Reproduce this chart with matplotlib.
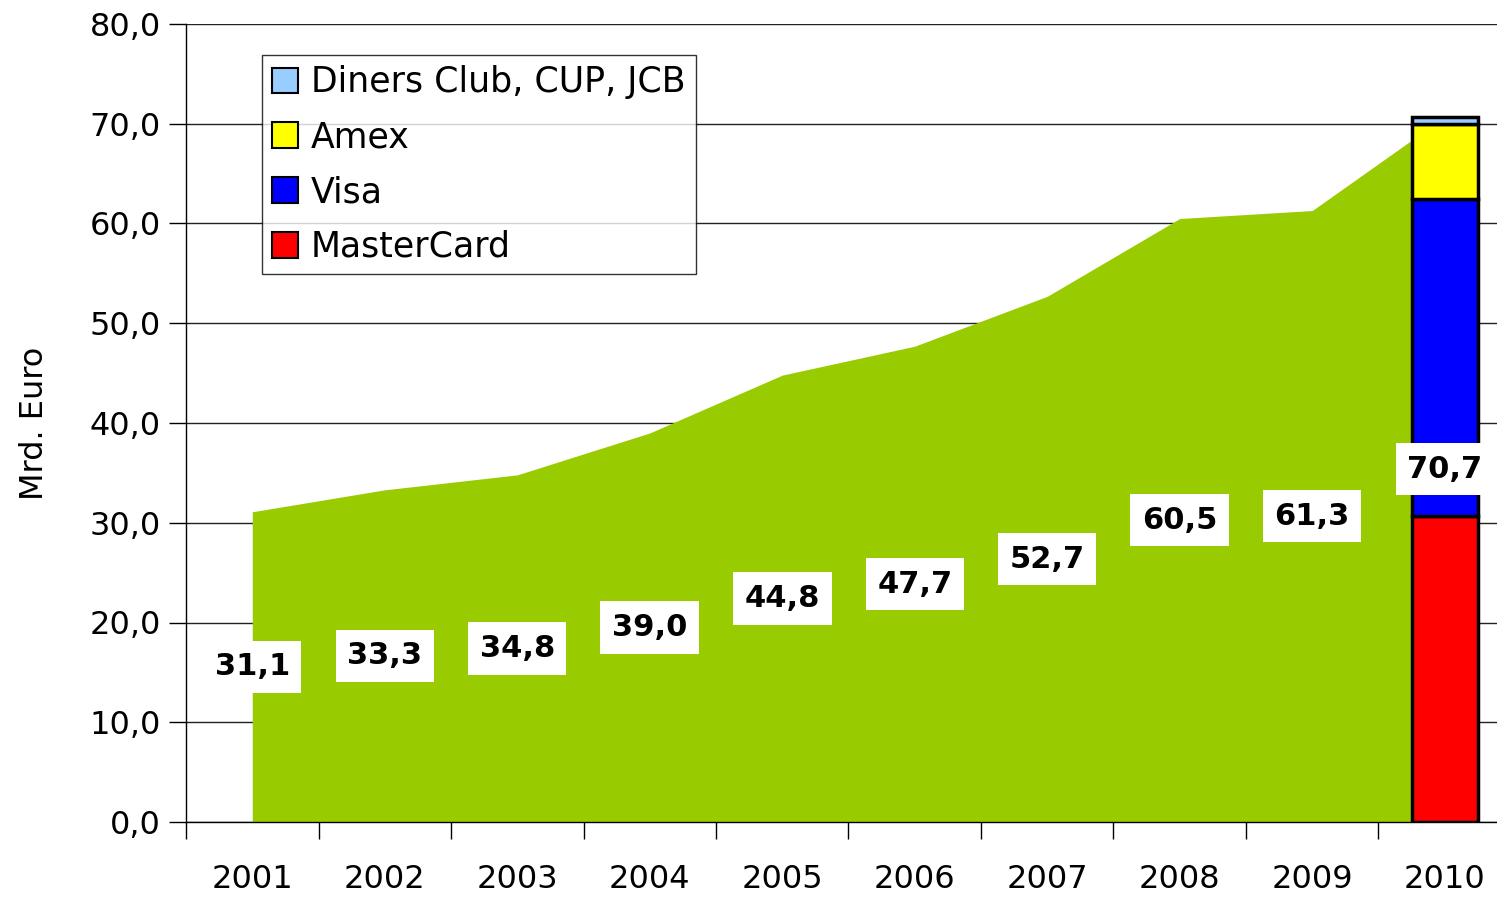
import matplotlib
matplotlib.use("Agg")
import matplotlib.pyplot as plt
from matplotlib.patches import Patch
import numpy as np

years = ["2001", "2002", "2003", "2004", "2005", "2006", "2007", "2008", "2009", "2010"]
totals = [31.1, 33.3, 34.8, 39.0, 44.8, 47.7, 52.7, 60.5, 61.3, 70.7]
seg_names = ["MasterCard", "Visa", "Amex", "Diners Club, CUP, JCB"]
seg_values = [30.7, 31.8, 7.5, 0.7]
seg_colors = ["#FF0000", "#0000FF", "#FFFF00", "#99CCFF"]
y_ticks = [0, 10, 20, 30, 40, 50, 60, 70, 80]

plt.rcParams['font.family'] = ['DejaVu Sans']

fig = plt.figure(figsize=(14.97, 8.97), dpi=100)
ax_w = 1325
ax = fig.add_axes([186/1497, 1 - 822/897, ax_w/1497, (822-24)/897])

x = np.arange(len(years))
ax.fill_between(x, totals, 0, color="#99CC00", linewidth=0, zorder=2)

bottom = 0
for name, v, c in zip(seg_names, seg_values, seg_colors):
    ax.bar(x[-1], v, width=0.5, bottom=bottom, color=c, edgecolor="black",
           linewidth=2.5, zorder=3)
    bottom += v

for xi, t in zip(x, totals):
    ax.text(xi, t / 2, f"{t:.1f}".replace(".", ","), ha="center", va="center",
            fontsize=22, fontweight="bold", zorder=5,
            bbox=dict(boxstyle="square,pad=0.38", facecolor="white", edgecolor="none"))

ax.set_xlim(-0.5, len(years) - 0.5)
ax.set_ylim(0, 80)
ax.set_yticks(y_ticks)
ax.set_yticklabels([f"{v:.1f}".replace(".", ",") for v in y_ticks], fontsize=23)
ax.yaxis.grid(True, color="#222222", linewidth=1.0, zorder=1)
ax.set_axisbelow(True)

ax.set_xticks(np.arange(-0.5, len(years), 1.0))
ax.set_xticklabels([])
ax.set_xticks(x, minor=True)
ax.set_xticklabels(years, minor=True, fontsize=23)
ax.tick_params(axis="x", which="minor", length=0, pad=30)
ax.tick_params(axis="x", which="major", length=12, width=1, direction="out")
ax.tick_params(axis="y", length=12, width=1, direction="out", pad=6)

for s in ["top", "right"]:
    ax.spines[s].set_visible(False)
ax.spines["left"].set_linewidth(1)
ax.spines["bottom"].set_linewidth(1)

ax.set_ylabel("Mrd. Euro", fontsize=23)
ax.yaxis.set_label_coords((50 - 186) / ax_w, 0.5)

handles = [Patch(facecolor=c, edgecolor="black", linewidth=1.5, label=n)
           for n, c in zip(seg_names, seg_colors)][::-1]
leg = ax.legend(handles=handles, loc="upper left",
                bbox_to_anchor=((262-186)/ax_w, (822-55)/798), borderaxespad=0,
                fontsize=25, fancybox=False, frameon=True, handlelength=0.75,
                handleheight=0.75, handletextpad=0.35, labelspacing=0.6,
                borderpad=0.3)
leg.get_frame().set_edgecolor("black")
leg.get_frame().set_linewidth(1)
leg.set_zorder(6)

fig.savefig("out.png", dpi=100)
